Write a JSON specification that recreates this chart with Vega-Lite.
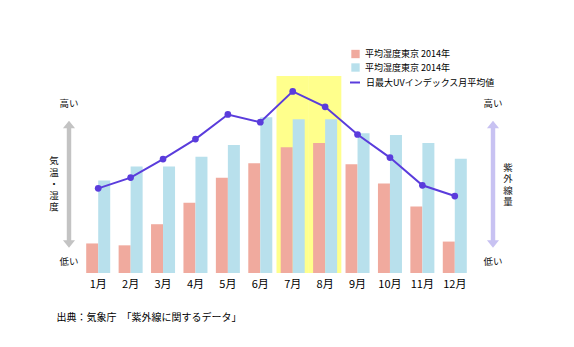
{
  "$schema": "https://vega.github.io/schema/vega-lite/v6.json",
  "padding": {"left": 0, "right": 0, "top": 49, "bottom": 0},
  "bounds": "flush",
  "spacing": 0,
  "config": {
    "view": {"stroke": "transparent"},
    "font": "Noto Sans CJK JP",
    "text": {"font": "Noto Sans CJK JP"}
  },
  "datasets": {
    "months": [
      {"month": "1月", "temp": 6.3, "humid": 47, "uv": 2.1},
      {"month": "2月", "temp": 5.9, "humid": 54, "uv": 2.8},
      {"month": "3月", "temp": 10.4, "humid": 54, "uv": 4.0},
      {"month": "4月", "temp": 15.0, "humid": 59, "uv": 5.3},
      {"month": "5月", "temp": 20.3, "humid": 65, "uv": 6.9},
      {"month": "6月", "temp": 23.4, "humid": 79, "uv": 6.4},
      {"month": "7月", "temp": 26.8, "humid": 78, "uv": 8.4},
      {"month": "8月", "temp": 27.7, "humid": 78, "uv": 7.4},
      {"month": "9月", "temp": 23.2, "humid": 71, "uv": 5.6},
      {"month": "10月", "temp": 19.1, "humid": 70, "uv": 4.1},
      {"month": "11月", "temp": 14.2, "humid": 66, "uv": 2.3},
      {"month": "12月", "temp": 6.7, "humid": 58, "uv": 1.6}
    ],
    "summer": [{"month": "7月"}, {"month": "8月"}],
    "leftNotes": [
      {"kind": "arrow", "col": "arrow", "level": 45},
      {"kind": "text", "col": "arrow", "level": 86, "label": "高い"},
      {"kind": "text", "col": "arrow", "level": 5.7, "label": "低い"},
      {"kind": "text", "col": "title", "level": 56.75, "label": "気\n温\n・\n湿\n度"}
    ],
    "rightNotes": [
      {"kind": "arrow", "col": "arrow", "level": 45},
      {"kind": "text", "col": "arrow", "level": 86, "label": "高い"},
      {"kind": "text", "col": "arrow", "level": 5.7, "label": "低い"},
      {"kind": "text", "col": "title", "level": 53.4, "label": "紫\n外\n線\n量"}
    ]
  },
  "resolve": {"scale": {"x": "independent", "y": "independent"}},
  "hconcat": [
    {
      "width": 81,
      "height": 197,
      "data": {"name": "leftNotes"},
      "layer": [
        {
          "transform": [{"filter": "datum.kind === 'arrow'"}],
          "mark": {"type": "point", "shape": "M0,-1L0.095,-0.882L0.035,-0.882L0.035,0.882L0.095,0.882L0,1L-0.095,0.882L-0.035,0.882L-0.035,-0.882L-0.095,-0.882Z", "size": 16129, "filled": true, "color": "#c3c3c3", "strokeWidth": 0, "opacity": 1},
          "encoding": {
            "x": {"field": "col", "type": "nominal", "scale": {"type": "point", "domain": ["title", "arrow"], "range": [53, 68], "padding": 0}, "axis": null},
            "y": {"field": "level", "type": "quantitative", "scale": {"domain": [0, 100]}, "axis": null}
          }
        },
        {
          "transform": [{"filter": "datum.kind === 'text'"}],
          "mark": {"type": "text", "fontSize": 9.5, "lineBreak": "\n", "lineHeight": 11.5, "color": "#111111", "baseline": "middle", "align": "center"},
          "encoding": {
            "x": {"field": "col", "type": "nominal", "scale": {"type": "point", "domain": ["title", "arrow"], "range": [53, 68], "padding": 0}, "axis": null},
            "y": {"field": "level", "type": "quantitative", "scale": {"domain": [0, 100]}, "axis": null},
            "text": {"field": "label"}
          }
        }
      ]
    },
    {
      "width": 389,
      "height": 197,
      "data": {"name": "months"},
      "layer": [
        {
          "data": {"name": "summer"},
          "mark": {"type": "rect", "color": "#ffff8c"},
          "encoding": {
            "x": {"field": "month", "type": "nominal", "sort": null, "scale": {"domain": ["1月","2月","3月","4月","5月","6月","7月","8月","9月","10月","11月","12月"], "paddingInner": 0, "paddingOuter": 0},
              "axis": {"title": "出典：気象庁　「紫外線に関するデータ」", "domain": false, "ticks": false, "tickSize": 0, "labelPadding": 5, "labelFontSize": 11, "labelColor": "#000000", "labelAngle": 0, "labelFont": "Noto Sans CJK JP",
                "titleFont": "Noto Sans CJK JP", "titleFontSize": 10, "titleFontWeight": "normal", "titleColor": "#000000", "titleAnchor": "start", "titleAlign": "left", "titleBaseline": "middle", "titleX": -26, "titleY": 44}}
          }
        },
        {
          "mark": {"type": "bar"},
          "encoding": {
            "x": {"field": "month", "type": "nominal", "sort": null, "scale": {"domain": ["1月","2月","3月","4月","5月","6月","7月","8月","9月","10月","11月","12月"], "paddingInner": 0, "paddingOuter": 0}},
            "xOffset": {"datum": "気温", "scale": {"domain": ["気温", "湿度"], "paddingInner": 0, "paddingOuter": 0.35}},
            "y": {"field": "temp", "type": "quantitative", "scale": {"domain": [0, 42]}, "axis": null},
            "color": {"datum": "気温", "scale": {"domain": ["気温", "湿度"], "range": ["#f0aa9e", "#b8e0ec"]},
              "legend": {"orient": "none", "legendX": 350, "legendY": -26.5, "title": null, "symbolType": "square", "symbolSize": 70, "symbolStrokeWidth": 0, "labelFontSize": 9, "labelFont": "Noto Sans CJK JP", "labelColor": "#000000", "labelExpr": "'平均湿度東京 2014年'", "rowPadding": 3.5, "labelOffset": 5, "padding": 0}}
          }
        },
        {
          "mark": {"type": "bar"},
          "encoding": {
            "x": {"field": "month", "type": "nominal", "sort": null, "scale": {"domain": ["1月","2月","3月","4月","5月","6月","7月","8月","9月","10月","11月","12月"], "paddingInner": 0, "paddingOuter": 0}},
            "xOffset": {"datum": "湿度"},
            "y": {"field": "humid", "type": "quantitative", "scale": {"domain": [0, 100]}, "axis": null},
            "color": {"datum": "湿度"}
          }
        },
        {
          "mark": {"type": "line", "strokeWidth": 2},
          "encoding": {
            "x": {"field": "month", "type": "nominal", "sort": null, "scale": {"domain": ["1月","2月","3月","4月","5月","6月","7月","8月","9月","10月","11月","12月"], "paddingInner": 0, "paddingOuter": 0}},
            "y": {"field": "uv", "type": "quantitative", "scale": {"domain": [-3.4, 9.4]}, "axis": null},
            "stroke": {"datum": "日最大UVインデックス月平均値", "scale": {"range": ["#5a3cdc"]},
              "legend": {"orient": "none", "legendX": 348, "legendY": 0.5, "title": null, "symbolType": "stroke", "symbolSize": 100, "symbolStrokeWidth": 2, "labelFontSize": 9, "labelFont": "Noto Sans CJK JP", "labelColor": "#000000", "labelOffset": 5, "padding": 0}}
          }
        },
        {
          "mark": {"type": "point", "filled": true, "size": 45, "color": "#5a3cdc", "opacity": 1},
          "encoding": {
            "x": {"field": "month", "type": "nominal", "sort": null, "scale": {"domain": ["1月","2月","3月","4月","5月","6月","7月","8月","9月","10月","11月","12月"], "paddingInner": 0, "paddingOuter": 0}},
            "y": {"field": "uv", "type": "quantitative", "scale": {"domain": [-3.4, 9.4]}, "axis": null}
          }
        }
      ],
      "resolve": {"scale": {"y": "independent"}}
    },
    {
      "width": 104,
      "height": 197,
      "data": {"name": "rightNotes"},
      "layer": [
        {
          "transform": [{"filter": "datum.kind === 'arrow'"}],
          "mark": {"type": "point", "shape": "M0,-1L0.095,-0.882L0.035,-0.882L0.035,0.882L0.095,0.882L0,1L-0.095,0.882L-0.035,0.882L-0.035,-0.882L-0.095,-0.882Z", "size": 16129, "filled": true, "color": "#c8c2f2", "strokeWidth": 0, "opacity": 1},
          "encoding": {
            "x": {"field": "col", "type": "nominal", "scale": {"type": "point", "domain": ["arrow", "title"], "range": [22, 37], "padding": 0}, "axis": null},
            "y": {"field": "level", "type": "quantitative", "scale": {"domain": [0, 100]}, "axis": null}
          }
        },
        {
          "transform": [{"filter": "datum.kind === 'text'"}],
          "mark": {"type": "text", "fontSize": 9.5, "lineBreak": "\n", "lineHeight": 11.5, "color": "#111111", "baseline": "middle", "align": "center"},
          "encoding": {
            "x": {"field": "col", "type": "nominal", "scale": {"type": "point", "domain": ["arrow", "title"], "range": [22, 37], "padding": 0}, "axis": null},
            "y": {"field": "level", "type": "quantitative", "scale": {"domain": [0, 100]}, "axis": null},
            "text": {"field": "label"}
          }
        }
      ]
    }
  ]
}
